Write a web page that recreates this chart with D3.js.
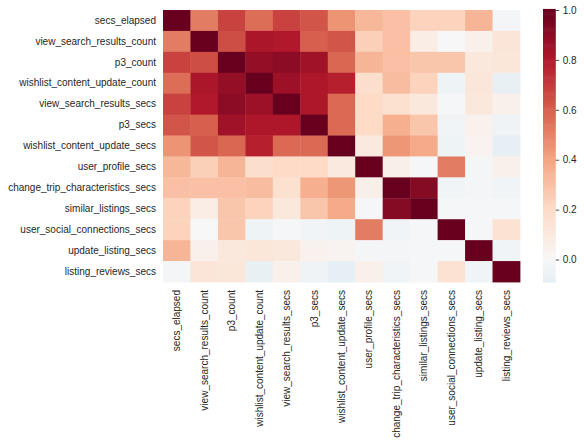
<!DOCTYPE html>
<html>
<head>
<meta charset="utf-8">
<script src="https://cdn.jsdelivr.net/npm/d3@7"></script>
<style>
  body { margin: 0; background: #fff; }
  text { font-family: "Liberation Sans", Arial, sans-serif; font-size: 10px; fill: #262626; }
</style>
</head>
<body>
<svg id="chart" width="584" height="445"></svg>
<script>
var labels = ["secs_elapsed", "view_search_results_count", "p3_count", "wishlist_content_update_count",
  "view_search_results_secs", "p3_secs", "wishlist_content_update_secs", "user_profile_secs",
  "change_trip_characteristics_secs", "similar_listings_secs", "user_social_connections_secs",
  "update_listing_secs", "listing_reviews_secs"];

// correlation matrix (row order = labels)
var corr = [
  [1, 0.52, 0.68, 0.56, 0.68, 0.63, 0.45, 0.33, 0.30, 0.23, 0.23, 0.34, -0.02],
  [0.52, 1, 0.65, 0.82, 0.80, 0.60, 0.63, 0.24, 0.30, 0.07, 0.00, 0.05, 0.13],
  [0.68, 0.65, 1, 0.88, 0.90, 0.85, 0.58, 0.34, 0.30, 0.28, 0.28, 0.11, 0.12],
  [0.56, 0.82, 0.88, 1, 0.86, 0.81, 0.78, 0.18, 0.31, 0.23, -0.05, 0.12, -0.08],
  [0.68, 0.80, 0.90, 0.86, 1, 0.81, 0.57, 0.20, 0.16, 0.11, -0.01, 0.11, 0.05],
  [0.63, 0.60, 0.85, 0.81, 0.81, 1, 0.57, 0.20, 0.36, 0.28, -0.03, 0.04, -0.04],
  [0.45, 0.63, 0.58, 0.78, 0.57, 0.57, 1, 0.10, 0.44, 0.38, -0.05, 0.03, -0.09],
  [0.33, 0.24, 0.34, 0.18, 0.20, 0.20, 0.10, 1, 0.06, -0.01, 0.52, -0.02, 0.05],
  [0.30, 0.30, 0.30, 0.31, 0.16, 0.36, 0.44, 0.06, 1, 0.92, -0.03, -0.02, -0.03],
  [0.23, 0.07, 0.28, 0.23, 0.11, 0.28, 0.38, -0.01, 0.92, 1, -0.01, -0.01, -0.01],
  [0.23, 0.00, 0.28, -0.05, -0.01, -0.03, -0.05, 0.52, -0.03, -0.01, 1, -0.01, 0.15],
  [0.34, 0.05, 0.11, 0.12, 0.11, 0.04, 0.03, -0.02, -0.02, -0.01, -0.01, 1, -0.03],
  [-0.02, 0.13, 0.12, -0.08, 0.05, -0.04, -0.09, 0.05, -0.03, -0.01, 0.15, -0.03, 1]
];
var cbarTicks = [0.0, 0.2, 0.4, 0.6, 0.8, 1.0];

// RdBu_r centred on 0
var rdbu = ["#053061", "#2166ac", "#4393c3", "#92c5de", "#d1e5f0", "#f7f7f7",
            "#fddbc7", "#f4a582", "#d6604d", "#b2182b", "#67001f"];
var color = d3.scaleLinear()
  .domain(d3.range(11).map(function(i) { return -1 + i * 0.2; }))
  .range(rdbu)
  .interpolate(d3.interpolateRgb)
  .clamp(true);

var cells = [];
corr.forEach(function(row, i) {
  row.forEach(function(v, j) { cells.push({r: labels[i], c: labels[j], v: v}); });
});

var vmin = d3.min(cells, function(d) { return d.v; }),
  vmax = d3.max(cells, function(d) { return d.v; });

var svg = d3.select("#chart");

var x = d3.scaleBand().domain(labels).range([163, 520]),
  y = d3.scaleBand().domain(labels).range([10, 282]);

svg.append("g").selectAll("rect")
  .data(cells)
  .enter().append("rect")
  .attr("x", function(d) { return x(d.c); })
  .attr("y", function(d) { return y(d.r); })
  .attr("width", x.bandwidth() + 0.4)
  .attr("height", y.bandwidth() + 0.4)
  .attr("fill", function(d) { return color(d.v); });

var yAxis = svg.append("g").attr("transform", "translate(163,0)")
  .call(d3.axisLeft(y).tickSize(0).tickPadding(7));
yAxis.select(".domain").remove();
yAxis.selectAll("text").attr("fill", "#262626").style("font-size", "10px")
  .style("font-family", "'Liberation Sans', Arial, sans-serif");

var xAxis = svg.append("g").attr("transform", "translate(0,282)")
  .call(d3.axisBottom(x).tickSize(0).tickPadding(0));
xAxis.select(".domain").remove();
xAxis.selectAll("text")
  .attr("fill", "#262626").style("font-size", "10px")
  .style("font-family", "'Liberation Sans', Arial, sans-serif")
  .attr("transform", "rotate(-90)")
  .attr("x", -8).attr("y", 0).attr("dy", "0.35em")
  .style("text-anchor", "end");

// colorbar
var cb = {x: 543, w: 12.7};
var cy = d3.scaleLinear().domain([vmin, vmax]).range([282, 10]);
var steps = d3.range(0, 256).map(function(i) { return vmin + (vmax - vmin) * i / 255; });
svg.append("g").selectAll("rect")
  .data(steps)
  .enter().append("rect")
  .attr("x", cb.x)
  .attr("width", cb.w)
  .attr("y", function(d) { return cy(d) - (cy(vmin) - cy(vmax)) / 255; })
  .attr("height", (cy(vmin) - cy(vmax)) / 255 + 0.6)
  .attr("fill", function(d) { return color(d); });

var cAxis = svg.append("g").attr("transform", "translate(" + (cb.x + cb.w) + ",0)")
  .call(d3.axisRight(cy).tickValues(cbarTicks).tickFormat(d3.format(".1f")).tickSize(3.5).tickPadding(3.5));
cAxis.select(".domain").remove();
cAxis.selectAll("line").attr("stroke", "#262626").attr("stroke-width", 0.8);
cAxis.selectAll("text").attr("fill", "#262626").style("font-size", "10px")
  .style("font-family", "'Liberation Sans', Arial, sans-serif");
</script>
</body>
</html>
